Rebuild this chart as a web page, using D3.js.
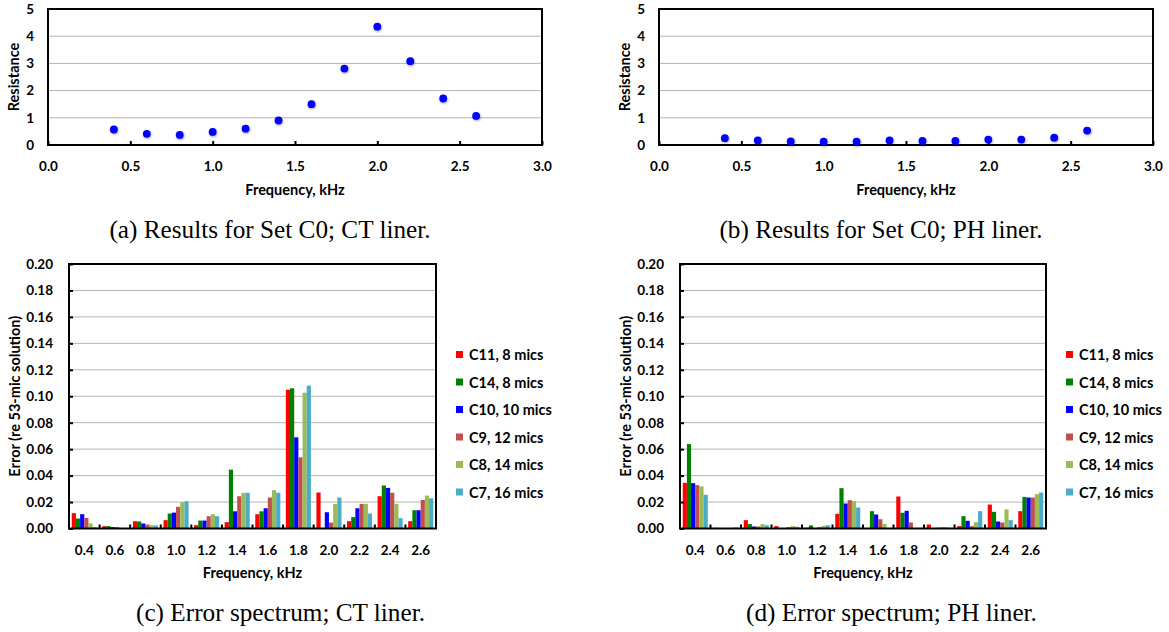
<!DOCTYPE html>
<html>
<head>
<meta charset="utf-8">
<title>Liner resistance and error spectra</title>
<style>
  body { margin: 0; background: #fff; }
  svg text { font-family: Lato, "Open Sans", sans-serif; font-weight: bold; font-size: 14.5px; fill: #000; }
  svg .tick text { font-size: 13.5px; }
  svg text.cap { font-family: "Liberation Serif", serif; font-weight: normal; }
</style>
</head>
<body>
<svg id="fig"></svg>
<script src="https://cdn.jsdelivr.net/npm/d3@7/dist/d3.min.js"></script>
<script>
    const width = 1169, height = 632

    // frequencies, kHz
    const freqs = [0.4, 0.6, 0.8, 1.0, 1.2, 1.4, 1.6, 1.8, 2.0, 2.2, 2.4, 2.6]
    // resistance, set C0
    const resistCT = [0.57, 0.41, 0.37, 0.48, 0.60, 0.90, 1.50, 2.81, 4.35, 3.08, 1.71, 1.07]
    const resistPH = [0.25, 0.17, 0.13, 0.12, 0.12, 0.17, 0.15, 0.15, 0.20, 0.20, 0.27, 0.53]
    const resistTicksX = [0, 0.5, 1.0, 1.5, 2.0, 2.5, 3.0]
    const resistTicksY = [0, 1, 2, 3, 4, 5]

    const seriesNames = ["C11, 8 mics", "C14, 8 mics", "C10, 10 mics", "C9, 12 mics", "C8, 14 mics", "C7, 16 mics"]
    const seriesColors = ["#ff0000", "#008000", "#0000ff", "#c0504d", "#9bbb59", "#4bacc6"]
    const errTicks = [0, 0.02, 0.04, 0.06, 0.08, 0.10, 0.12, 0.14, 0.16, 0.18, 0.20]

    // error, one row per frequency, columns follow seriesNames
    const errCT = [
        [0.0116, 0.0075, 0.0108, 0.0080, 0.0038, 0.0010],
        [0.0018, 0.0018, 0.0010, 0.0010, 0.0003, 0.0000],
        [0.0055, 0.0053, 0.0038, 0.0030, 0.0025, 0.0023],
        [0.0063, 0.0113, 0.0120, 0.0164, 0.0199, 0.0206],
        [0.0025, 0.0060, 0.0060, 0.0093, 0.0108, 0.0093],
        [0.0048, 0.0445, 0.0130, 0.0244, 0.0270, 0.0270],
        [0.0108, 0.0130, 0.0153, 0.0234, 0.0290, 0.0270],
        [0.1049, 0.1060, 0.0689, 0.0538, 0.1027, 0.1080],
        [0.0272, 0.0000, 0.0123, 0.0045, 0.0186, 0.0234],
        [0.0055, 0.0086, 0.0153, 0.0186, 0.0186, 0.0113],
        [0.0244, 0.0325, 0.0307, 0.0270, 0.0186, 0.0078],
        [0.0055, 0.0138, 0.0138, 0.0216, 0.0249, 0.0229]
    ]
    const errPH = [
        [0.0345, 0.0638, 0.0343, 0.0328, 0.0318, 0.0255],
        [0.0005, 0.0000, 0.0000, 0.0000, 0.0003, 0.0008],
        [0.0063, 0.0033, 0.0015, 0.0015, 0.0033, 0.0025],
        [0.0018, 0.0000, 0.0000, 0.0010, 0.0018, 0.0013],
        [0.0005, 0.0023, 0.0000, 0.0010, 0.0020, 0.0025],
        [0.0111, 0.0305, 0.0189, 0.0214, 0.0207, 0.0159],
        [0.0000, 0.0131, 0.0106, 0.0070, 0.0035, 0.0000],
        [0.0242, 0.0119, 0.0134, 0.0045, 0.0000, 0.0000],
        [0.0030, 0.0000, 0.0005, 0.0008, 0.0010, 0.0005],
        [0.0018, 0.0093, 0.0058, 0.0018, 0.0048, 0.0131],
        [0.0181, 0.0126, 0.0053, 0.0045, 0.0144, 0.0063],
        [0.0131, 0.0239, 0.0234, 0.0234, 0.0260, 0.0272]
    ]

    const captions = [
        "(a) Results for Set C0; CT liner.",
        "(b) Results for Set C0; PH liner.",
        "(c) Error spectrum; CT liner.",
        "(d) Error spectrum; PH liner."
    ]

    var svg = d3.select("#fig")
        .attr("width", width)
        .attr("height", height)

    var defs = svg.append("defs")
    defs.append("filter").attr("id", "shadow")
        .attr("x", "-50%").attr("y", "-50%").attr("width", "200%").attr("height", "200%")
        .append("feDropShadow")
        .attr("dx", 0.6).attr("dy", 1).attr("stdDeviation", 0.8)
        .attr("flood-color", "#000").attr("flood-opacity", 0.35)

    function cleanAxis(g) {
        g.attr("font-size", null).attr("font-family", null)
        g.select(".domain").remove()
    }

    function scatterPanel(box, values) {
        var x = d3.scaleLinear().domain([0, 3]).range([box.left, box.right])
        var y = d3.scaleLinear().domain([0, 5]).range([box.bottom, box.top])
        var g = svg.append("g")

        g.append("g")
            .selectAll("line")
            .data(resistTicksY.filter(d => d > 0 && d < 5))
            .enter()
            .append("line")
            .attr("x1", box.left).attr("x2", box.right)
            .attr("y1", d => y(d)).attr("y2", d => y(d))
            .attr("stroke", "#b4b4b4")

        g.append("g")
            .attr("transform", `translate(${box.left}, 0)`)
            .call(d3.axisLeft(y).tickValues(resistTicksY).tickSize(0).tickPadding(14).tickFormat(d3.format("d")))
            .call(cleanAxis)

        g.append("g")
            .attr("transform", `translate(0, ${box.bottom})`)
            .call(d3.axisBottom(x).tickValues(resistTicksX).tickSize(-4).tickPadding(16).tickFormat(d3.format(".1f")))
            .call(cleanAxis)
            .selectAll("line").attr("stroke", "#000").attr("stroke-width", 2)

        g.append("rect")
            .attr("x", box.left).attr("y", box.top)
            .attr("width", box.right - box.left).attr("height", box.bottom - box.top)
            .attr("fill", "none").attr("stroke", "#000").attr("stroke-width", 2)

        g.append("g")
            .selectAll("circle")
            .data(freqs.map((f, i) => ({ f: f, v: values[i] })))
            .enter()
            .append("circle")
            .attr("cx", d => x(d.f))
            .attr("cy", d => y(d.v))
            .attr("r", 3.9)
            .attr("fill", "#0000ff")
            .attr("filter", "url(#shadow)")

        g.append("text")
            .attr("x", (box.left + box.right) / 2).attr("y", box.bottom + 50)
            .attr("text-anchor", "middle")
            .text("Frequency, kHz")

        g.append("text")
            .attr("transform", `translate(${box.left - 34.7}, ${(box.top + box.bottom) / 2}) rotate(-90)`)
            .attr("text-anchor", "middle")
            .attr("dominant-baseline", "central")
            .text("Resistance")
    }

    function barPanel(box, rows) {
        var x0 = d3.scaleBand()
            .domain(freqs)
            .range([box.left, box.right])
            .paddingInner(0.18)
            .paddingOuter(0.09)
        var x1 = d3.scaleBand()
            .domain(seriesNames)
            .range([0, x0.bandwidth()])
        var y = d3.scaleLinear().domain([0, 0.2]).range([box.bottom, box.top])
        var color = d3.scaleOrdinal().domain(seriesNames).range(seriesColors)
        var g = svg.append("g")

        g.append("g")
            .selectAll("line")
            .data(errTicks.filter(d => d > 0 && d < 0.2))
            .enter()
            .append("line")
            .attr("x1", box.left).attr("x2", box.right)
            .attr("y1", d => y(d)).attr("y2", d => y(d))
            .attr("stroke", "#b4b4b4")

        g.append("g")
            .selectAll("g")
            .data(freqs.map((f, i) => ({ f: f, vals: rows[i] })))
            .enter()
            .append("g")
            .attr("transform", d => `translate(${x0(d.f)}, 0)`)
            .selectAll("rect")
            .data(d => d.vals.map((v, j) => ({ name: seriesNames[j], v: v })))
            .enter()
            .append("rect")
            .attr("x", d => x1(d.name))
            .attr("y", d => y(d.v))
            .attr("width", x1.bandwidth())
            .attr("height", d => y(0) - y(d.v))
            .attr("fill", d => color(d.name))

        g.append("g")
            .attr("transform", `translate(${box.left}, 0)`)
            .call(d3.axisLeft(y).tickValues(errTicks).tickSize(-4).tickPadding(16).tickFormat(d3.format(".2f")))
            .call(cleanAxis)
            .selectAll("line").attr("stroke", "#000").attr("stroke-width", 2)

        // small ticks between frequency groups
        g.append("g")
            .selectAll("line")
            .data(freqs.slice(1))
            .enter()
            .append("line")
            .attr("x1", d => x0(d) - x0.step() * x0.paddingInner() / 2)
            .attr("x2", d => x0(d) - x0.step() * x0.paddingInner() / 2)
            .attr("y1", box.bottom).attr("y2", box.bottom - 4)
            .attr("stroke", "#000").attr("stroke-width", 2)

        g.append("g")
            .attr("transform", `translate(0, ${box.bottom})`)
            .call(d3.axisBottom(x0).tickSize(0).tickPadding(17).tickFormat(d3.format(".1f")))
            .call(cleanAxis)

        g.append("rect")
            .attr("x", box.left).attr("y", box.top)
            .attr("width", box.right - box.left).attr("height", box.bottom - box.top)
            .attr("fill", "none").attr("stroke", "#000").attr("stroke-width", 2)

        g.append("text")
            .attr("x", (box.left + box.right) / 2).attr("y", box.bottom + 49)
            .attr("text-anchor", "middle")
            .text("Frequency, kHz")

        g.append("text")
            .attr("transform", `translate(${box.left - 55}, ${(box.top + box.bottom) / 2}) rotate(-90)`)
            .attr("text-anchor", "middle")
            .attr("dominant-baseline", "central")
            .text("Error (re 53-mic solution)")

        var legend = g.append("g")
            .selectAll("g")
            .data(seriesNames)
            .enter()
            .append("g")
            .attr("transform", (d, i) => `translate(${box.right + 20}, ${354.5 + i * 27.5})`)
        legend.append("rect")
            .attr("x", 0).attr("y", -3.5)
            .attr("width", 7).attr("height", 7)
            .attr("fill", d => color(d))
        legend.append("text")
            .attr("x", 13).attr("y", 0)
            .attr("dominant-baseline", "central")
            .text(d => d)
    }

    scatterPanel({ left: 48, right: 542, top: 9, bottom: 145 }, resistCT)
    scatterPanel({ left: 659, right: 1153, top: 9, bottom: 145 }, resistPH)
    barPanel({ left: 69, right: 436, top: 264, bottom: 528.5 }, errCT)
    barPanel({ left: 680, right: 1046, top: 264, bottom: 528.5 }, errPH)

    // captions, sized so the (c) line is about as wide as in the figure
    var capPos = [[270, 238], [881, 238], [280.5, 621], [891.5, 621]]
    var caps = svg.append("g")
        .selectAll("text")
        .data(captions)
        .enter()
        .append("text")
        .classed("cap", true)
        .attr("x", (d, i) => capPos[i][0])
        .attr("y", (d, i) => capPos[i][1])
        .attr("text-anchor", "middle")
        .style("font-size", "20px")
        .text(d => d)
    var measured = caps.nodes()[2].getComputedTextLength()
    caps.style("font-size", (20 * 289 / measured).toFixed(2) + "px")
</script>
</body>
</html>
